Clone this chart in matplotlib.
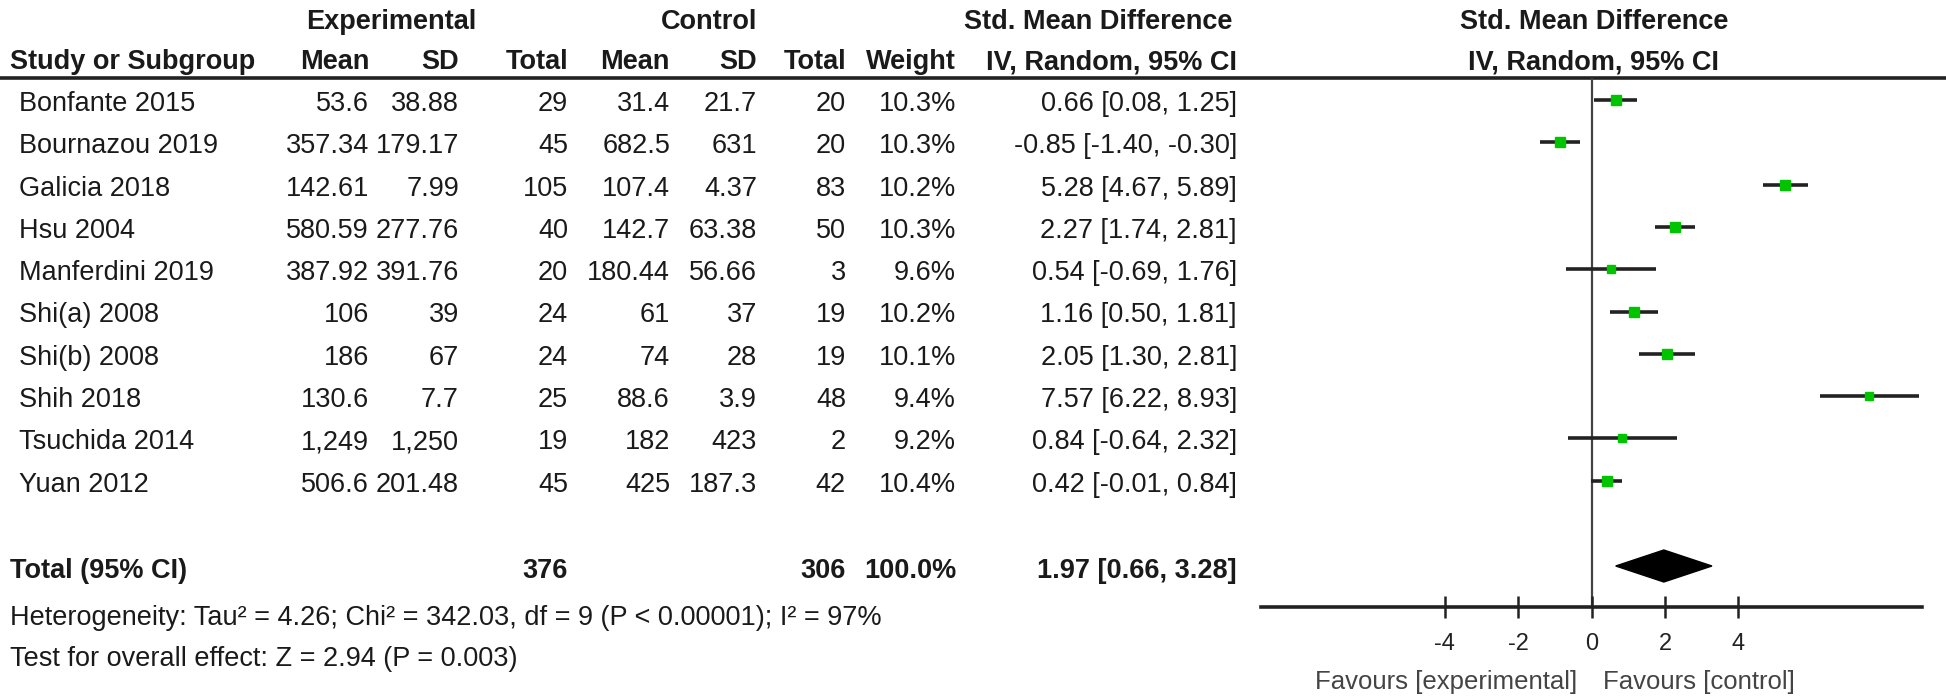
import matplotlib
matplotlib.use("Agg")
import matplotlib.pyplot as plt
from matplotlib.patches import Polygon

# ---------------- data ----------------
studies = ["Bonfante 2015", "Bournazou 2019", "Galicia 2018", "Hsu 2004", "Manferdini 2019",
           "Shi(a) 2008", "Shi(b) 2008", "Shih 2018", "Tsuchida 2014", "Yuan 2012"]
exp_mean = ["53.6", "357.34", "142.61", "580.59", "387.92", "106", "186", "130.6", "1,249", "506.6"]
exp_sd = ["38.88", "179.17", "7.99", "277.76", "391.76", "39", "67", "7.7", "1,250", "201.48"]
exp_n = [29, 45, 105, 40, 20, 24, 24, 25, 19, 45]
ctl_mean = ["31.4", "682.5", "107.4", "142.7", "180.44", "61", "74", "88.6", "182", "425"]
ctl_sd = ["21.7", "631", "4.37", "63.38", "56.66", "37", "28", "3.9", "423", "187.3"]
ctl_n = [20, 20, 83, 50, 3, 19, 19, 48, 2, 42]
weights = [10.3, 10.3, 10.2, 10.3, 9.6, 10.2, 10.1, 9.4, 9.2, 10.4]
smd = [0.66, -0.85, 5.28, 2.27, 0.54, 1.16, 2.05, 7.57, 0.84, 0.42]
ci_lo = [0.08, -1.40, 4.67, 1.74, -0.69, 0.50, 1.30, 6.22, -0.64, -0.01]
ci_hi = [1.25, -0.30, 5.89, 2.81, 1.76, 1.81, 2.81, 8.93, 2.32, 0.84]
total_exp, total_ctl = 376, 306
total_smd, total_lo, total_hi = 1.97, 0.66, 3.28
ticks = [-4, -2, 0, 2, 4]
heterogeneity = "Heterogeneity: Tau² = 4.26; Chi² = 342.03, df = 9 (P < 0.00001); I² = 97%"
overall = "Test for overall effect: Z = 2.94 (P = 0.003)"

plt.rcParams["font.family"] = ["Liberation Sans", "DejaVu Sans"]

W, H = 1946, 698
fig = plt.figure(figsize=(W / 100, H / 100), dpi=100)

# row geometry (pixels): row r centred at Y0 + DY * r
Y0, DY = 100.0, 42.3
TOFF = 4.0  # text vertical offset in pixels
def row_of(py):
    return (py - Y0) / DY

tab = fig.add_axes([0, 0, 1, 1])
tab.set_xlim(0, W)
tab.set_ylim(row_of(H), row_of(0))
tab.axis("off")

FS = 19.5
TXT = "#1a1a1a"
hdr = dict(fontsize=FS, fontweight="bold", color=TXT, va="center")
cell = dict(fontsize=FS, color=TXT, va="center")
to = TOFF / DY

# header
r_top, r_hdr = row_of(18 + TOFF), row_of(58 + TOFF)
tab.text(391, r_top, "Experimental", ha="center", **hdr)
tab.text(709, r_top, "Control", ha="center", **hdr)
tab.text(1098, r_top, "Std. Mean Difference", ha="center", **hdr)
tab.text(1594, r_top, "Std. Mean Difference", ha="center", **hdr)
tab.text(10, r_hdr, "Study or Subgroup", ha="left", **hdr)
col_x = [369, 459, 568, 670, 757, 846, 956]
for x, lab in zip(col_x, ["Mean", "SD", "Total", "Mean", "SD", "Total", "Weight"]):
    tab.text(x, r_hdr, lab, ha="right", **hdr)
tab.text(1237, r_hdr, "IV, Random, 95% CI", ha="right", **hdr)
tab.text(1594, r_hdr, "IV, Random, 95% CI", ha="center", **hdr)
tab.plot([0, W], [row_of(78), row_of(78)], color="#222222", lw=2.6, solid_capstyle="butt")

for i, name in enumerate(studies):
    tab.text(19, i + to, name, ha="left", **cell)
    vals = [exp_mean[i], exp_sd[i], str(exp_n[i]), ctl_mean[i], ctl_sd[i], str(ctl_n[i]),
            f"{weights[i]:.1f}%"]
    for x, v in zip(col_x, vals):
        tab.text(x, i + to, v, ha="right", **cell)
    tab.text(1237, i + to, f"{smd[i]:.2f} [{ci_lo[i]:.2f}, {ci_hi[i]:.2f}]", ha="right", **cell)

r_tot = row_of(566)
rt = row_of(571)
tab.text(10, rt, "Total (95% CI)", ha="left", **hdr)
tab.text(col_x[2], rt, str(total_exp), ha="right", **hdr)
tab.text(col_x[5], rt, str(total_ctl), ha="right", **hdr)
tab.text(col_x[6], rt, "100.0%", ha="right", **hdr)
tab.text(1237, rt, f"{total_smd:.2f} [{total_lo:.2f}, {total_hi:.2f}]", ha="right", **hdr)
tab.text(10, row_of(618), heterogeneity, ha="left", **cell)
tab.text(10, row_of(659), overall, ha="left", **cell)

# ---------------- forest axes ----------------
xl, xr, yt, yb = 1261, 1922, 78, 607
fa = fig.add_axes([xl / W, 1 - yb / H, (xr - xl) / W, (yb - yt) / H])
fa.set_xlim(-9, 9)
fa.set_ylim(row_of(yb), row_of(yt))
fa.patch.set_alpha(0)
for s in ["top", "left", "right"]:
    fa.spines[s].set_visible(False)
fa.spines["bottom"].set_linewidth(2.6)
fa.spines["bottom"].set_color("#222222")
fa.set_yticks([])
fa.set_xticks(ticks)
fa.set_xticklabels([str(t) for t in ticks])
fa.tick_params(axis="x", direction="inout", length=16, width=1.8, color="#222222",
               labelsize=17, labelcolor="#222222", pad=11)

fa.axvline(0, color="#444444", lw=1.6, zorder=1)
for i in range(len(studies)):
    fa.plot([ci_lo[i], ci_hi[i]], [i, i], color="#222222", lw=2.6, solid_capstyle="butt", zorder=2)
    fa.plot(smd[i], i, marker="s", ms=5.5 + (weights[i] - 9) * 1.2, color="#00c400",
            mec="#00c400", zorder=3)

dh = 16 / DY
diamond = Polygon([[total_lo, r_tot], [total_smd, r_tot - dh], [total_hi, r_tot],
                   [total_smd, r_tot + dh]], closed=True, color="black", zorder=3)
fa.add_patch(diamond)

fa.text(-0.39, row_of(682), "Favours [experimental]", ha="right", va="center",
        fontsize=18.5, color="#444444")
fa.text(0.31, row_of(682), "Favours [control]", ha="left", va="center",
        fontsize=18.5, color="#444444")

fig.savefig("out.png", dpi=100)
